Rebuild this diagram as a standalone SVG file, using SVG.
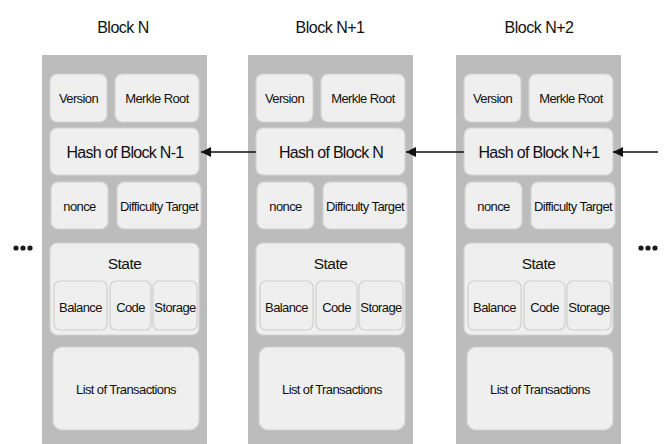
<svg xmlns="http://www.w3.org/2000/svg" width="665" height="444" viewBox="0 0 665 444">
<defs>
<style>
.outer{fill:#bcbcbc;}
.box{fill:#efefef;stroke:#d2d2d2;stroke-width:1.2;}
.sub{fill:#efefef;stroke:#cfcfcf;stroke-width:1.2;}
text{font-family:"Liberation Sans",Arial,sans-serif;fill:#111;text-anchor:middle;dominant-baseline:central;}
.t{font-size:16px;letter-spacing:-0.5px;}
.h{font-size:16px;letter-spacing:-0.7px;}
.s{font-size:13px;letter-spacing:-0.6px;}
.st{font-size:15.5px;letter-spacing:-0.5px;}
.dot{fill:#1a1a1a;}
.c{stroke:#111;stroke-width:1.5;fill:none;}
</style>
<marker id="ah" viewBox="0 0 10 10" refX="10" refY="5" markerWidth="10" markerHeight="10" markerUnits="userSpaceOnUse" orient="auto">
<path d="M0,0 L10,5 L0,10 z" fill="#111"/>
</marker>
<g id="blk">
<rect class="outer" x="0" y="0" width="165" height="392"/>
<rect class="box" x="8" y="19" width="57" height="48" rx="7"/>
<rect class="box" x="73" y="19" width="84" height="48" rx="7"/>
<rect class="box" x="8" y="73" width="149" height="47" rx="7"/>
<rect class="box" x="9" y="127" width="57" height="47" rx="7"/>
<rect class="box" x="75" y="127" width="84" height="47" rx="7"/>
<rect class="box" x="8" y="188" width="149" height="92" rx="7"/>
<rect class="sub" x="12" y="226" width="53" height="49" rx="6"/>
<rect class="sub" x="68" y="226" width="41" height="49" rx="6"/>
<rect class="sub" x="111" y="226" width="44" height="49" rx="6"/>
<rect class="box" x="11" y="292" width="146" height="83" rx="9"/>
<text class="s" x="36.5" y="43">Version</text>
<text class="s" x="115" y="43">Merkle Root</text>
<text class="s" x="37.5" y="151">nonce</text>
<text class="s" x="117" y="151">Difficulty Target</text>
<text class="st" x="82.5" y="208">State</text>
<text class="s" x="38.5" y="252">Balance</text>
<text class="s" x="88.5" y="252">Code</text>
<text class="s" x="133" y="252">Storage</text>
<text class="s" x="84" y="334">List of Transactions</text>
</g>
</defs>
<g id="block-n">
<use href="#blk" x="42" y="55"/>
<text class="t" x="123" y="27">Block N</text>
<text class="h" x="125" y="152">Hash of Block N-1</text>
</g>
<g id="block-n1">
<use href="#blk" x="248" y="55"/>
<text class="t" x="330" y="27">Block N+1</text>
<text class="h" x="331" y="152">Hash of Block N</text>
</g>
<g id="block-n2">
<use href="#blk" x="456" y="55"/>
<text class="t" x="539" y="27">Block N+2</text>
<text class="h" x="539" y="152">Hash of Block N+1</text>
</g>
<g id="dots-left"><circle class="dot" cx="16" cy="248" r="2.6"/><circle class="dot" cx="23" cy="248" r="2.6"/><circle class="dot" cx="30" cy="248" r="2.6"/></g>
<g id="dots-right"><circle class="dot" cx="641" cy="248" r="2.6"/><circle class="dot" cx="648" cy="248" r="2.6"/><circle class="dot" cx="655" cy="248" r="2.6"/></g>
<g id="connectors">
<line class="c" x1="256" y1="152" x2="201" y2="152" marker-end="url(#ah)"/>
<line class="c" x1="464" y1="152" x2="406" y2="152" marker-end="url(#ah)"/>
<line class="c" x1="658" y1="152" x2="613" y2="152" marker-end="url(#ah)"/>
</g>
</svg>
